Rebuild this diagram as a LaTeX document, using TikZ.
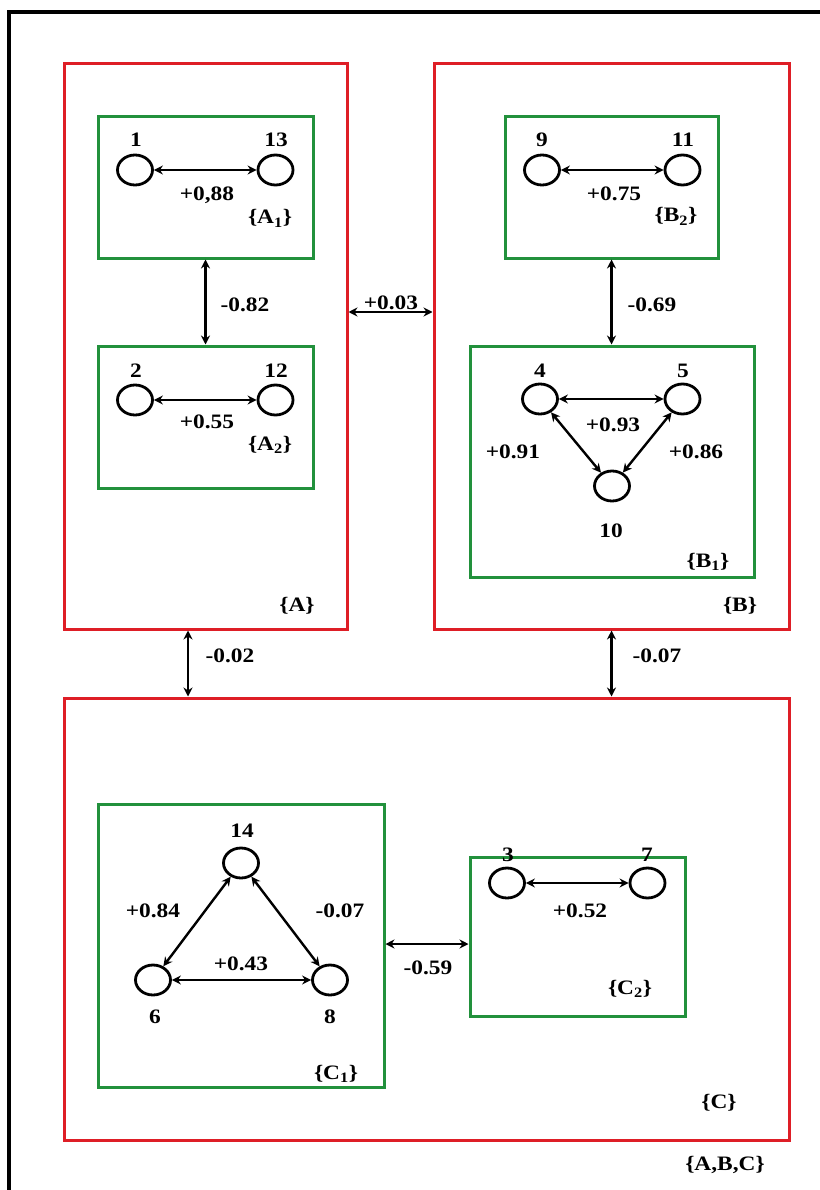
\documentclass[tikz,border=0pt]{standalone}
\usepackage{fontspec}
\setmainfont{Liberation Serif}[FakeStretch=1.14]
\usetikzlibrary{shapes.geometric,arrows.meta}
\definecolor{boxred}{RGB}{222,30,38}
\definecolor{boxgreen}{RGB}{34,145,60}
\begin{document}
\begin{tikzpicture}[x=1pt,y=-1pt,
  every node/.style={font=\fontsize{20.5}{22}\selectfont\bfseries, inner sep=0pt},
  redbox/.style={draw=boxred, line width=3pt, rectangle},
  greenbox/.style={draw=boxgreen, line width=3pt, rectangle},
  circ/.style={draw, ellipse, line width=2.8pt, minimum width=35pt, minimum height=30pt},
  arr/.style={line width=2.4pt, {Stealth[length=9pt,width=9pt]}-{Stealth[length=9pt,width=9pt]}},
  lab/.style={anchor=base}]
\useasboundingbox (0,0) rectangle (819,1190);
% outer frame
\draw[line width=3.5pt] (9,1200) -- (9,12) -- (830,12);
% red boxes
\node[redbox, minimum width=283pt, minimum height=565pt] (A) at (205.5,346.5) {};
\node[redbox, minimum width=355pt, minimum height=565pt] (B) at (611.5,346.5) {};
\node[redbox, minimum width=725pt, minimum height=442pt] (C) at (426.5,919) {};
% green boxes
\node[greenbox, minimum width=215pt, minimum height=141pt] (A1) at (205.5,187.5) {};
\node[greenbox, minimum width=215pt, minimum height=142pt] (A2) at (205.5,417) {};
\node[greenbox, minimum width=213pt, minimum height=141pt] (B2) at (611.5,187.5) {};
\node[greenbox, minimum width=284pt, minimum height=231pt] (B1) at (612,461.5) {};
\node[greenbox, minimum width=286pt, minimum height=283pt] (C1) at (241,945.5) {};
\node[greenbox, minimum width=215pt, minimum height=159pt] (C2) at (577.5,936.5) {};
% circles
\node[circ] (n1) at (135,170) {};
\node[circ] (n13) at (275.5,170) {};
\node[circ] (n2) at (135,400) {};
\node[circ] (n12) at (275.5,400) {};
\node[circ] (n9) at (542,170) {};
\node[circ] (n11) at (682.5,170) {};
\node[circ] (n4) at (540,399) {};
\node[circ] (n5) at (682.5,399) {};
\node[circ] (n10) at (612,486) {};
\node[circ] (n14) at (241,863) {};
\node[circ] (n6) at (153,980) {};
\node[circ] (n8) at (330,980) {};
\node[circ] (n3) at (507,883) {};
\node[circ] (n7) at (647.5,883) {};
% connectors between circles
\draw[arr] (n1) -- (n13);
\draw[arr] (n2) -- (n12);
\draw[arr] (n9) -- (n11);
\draw[arr] (n4) -- (n5);
\draw[arr] (n4) -- (n10);
\draw[arr] (n5) -- (n10);
\draw[arr] (n14) -- (n6);
\draw[arr] (n14) -- (n8);
\draw[arr] (n6) -- (n8);
\draw[arr] (n3) -- (n7);
% connectors between boxes
\draw[arr] (A1.south) -- (A2.north);
\draw[arr] (B2.south) -- (B2.south |- B1.north);
\draw[arr] (A.east |- 0,312) -- (B.west |- 0,312);
\draw[arr] (A.south -| 188,0) -- (C.north -| 188,0);
\draw[arr] (B.south) -- (B.south |- C.north);
\draw[arr] (C1.east |- 0,944) -- (C2.west |- 0,944);
% labels
\node[lab] (t1) at (136,147) {1};
\node[lab] (t13) at (276,147) {13};
\node[lab] (e113) at (207,201) {+0,88};
\node[lab] (lA1) at (270,224) {\{A\textsubscript{1}\}};
\node[lab] (t2) at (136,377) {2};
\node[lab] (t12) at (276,377) {12};
\node[lab] (e212) at (207,428) {+0.55};
\node[lab] (lA2) at (270,450) {\{A\textsubscript{2}\}};
\node[lab] (eA12) at (245,311) {-0.82};
\node[lab] (lA) at (297,611) {\{A\}};
\node[lab] (eAB) at (391,309) {+0.03};
\node[lab] (t9) at (542,147) {9};
\node[lab] (t11) at (683,147) {11};
\node[lab] (e911) at (614,201) {+0.75};
\node[lab] (lB2) at (676,222) {\{B\textsubscript{2}\}};
\node[lab] (eB21) at (652,311) {-0.69};
\node[lab] (t4) at (540,377) {4};
\node[lab] (t5) at (683,377) {5};
\node[lab] (e45) at (613,431) {+0.93};
\node[lab] (e410) at (513,458) {+0.91};
\node[lab] (e510) at (696,458) {+0.86};
\node[lab] (t10) at (611,537) {10};
\node[lab] (lB1) at (708,567) {\{B\textsubscript{1}\}};
\node[lab] (lB) at (740,611) {\{B\}};
\node[lab] (eAC) at (230,662) {-0.02};
\node[lab] (eBC) at (657,662) {-0.07};
\node[lab] (t14) at (242,837) {14};
\node[lab] (t6) at (155,1023) {6};
\node[lab] (t8) at (330,1023) {8};
\node[lab] (e146) at (153,917) {+0.84};
\node[lab] (e148) at (340,917) {-0.07};
\node[lab] (e68) at (241,970) {+0.43};
\node[lab] (lC1) at (336,1079) {\{C\textsubscript{1}\}};
\node[lab] (eC12) at (428,974) {-0.59};
\node[lab] (t3) at (508,861) {3};
\node[lab] (t7) at (647,861) {7};
\node[lab] (e37) at (580,917) {+0.52};
\node[lab] (lC2) at (630,994) {\{C\textsubscript{2}\}};
\node[lab] (lC) at (719,1108) {\{C\}};
\node[lab] (lABC) at (725,1170) {\{A,B,C\}};
\end{tikzpicture}
\end{document}
